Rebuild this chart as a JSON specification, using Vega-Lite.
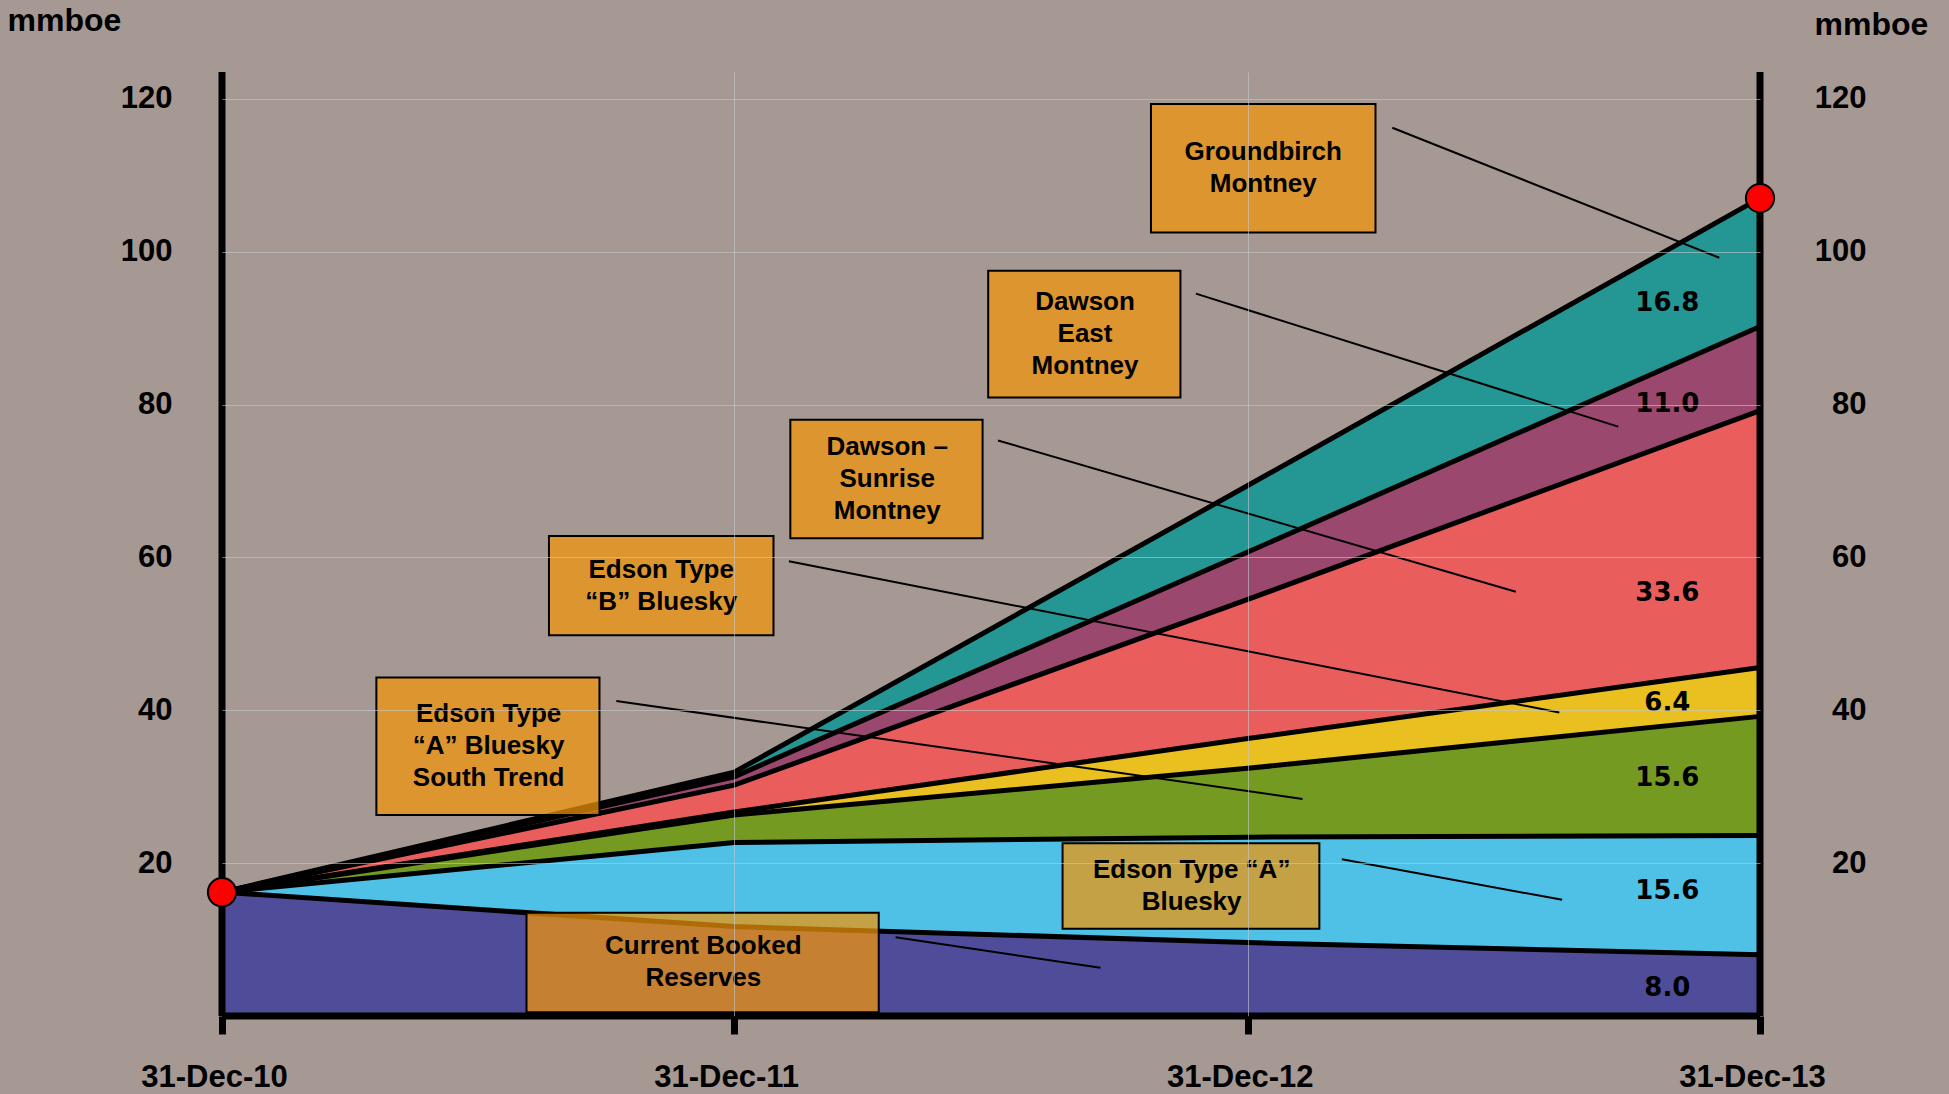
{
  "$schema": "https://vega.github.io/schema/vega-lite/v6.json",
  "width": 1538,
  "height": 944,
  "autosize": {"type": "none"},
  "padding": {"left": 222, "top": 72, "right": 189, "bottom": 78},
  "background": "#a69893",
  "config": {
    "view": {"stroke": null},
    "font": "Liberation Sans"
  },
  "datasets": {
    "reserves": [
      {"date": "2010-12-31", "series": "Current Booked Reserves", "order": 1, "value": 16.2},
      {"date": "2010-12-31", "series": "Edson Type “A” Bluesky", "order": 2, "value": 0},
      {"date": "2010-12-31", "series": "Edson Type “A” Bluesky South Trend", "order": 3, "value": 0},
      {"date": "2010-12-31", "series": "Edson Type “B” Bluesky", "order": 4, "value": 0},
      {"date": "2010-12-31", "series": "Dawson – Sunrise Montney", "order": 5, "value": 0},
      {"date": "2010-12-31", "series": "Dawson East Montney", "order": 6, "value": 0},
      {"date": "2010-12-31", "series": "Groundbirch Montney", "order": 7, "value": 0},
      {"date": "2011-12-31", "series": "Current Booked Reserves", "order": 1, "value": 11.7},
      {"date": "2011-12-31", "series": "Edson Type “A” Bluesky", "order": 2, "value": 11.0},
      {"date": "2011-12-31", "series": "Edson Type “A” Bluesky South Trend", "order": 3, "value": 3.6},
      {"date": "2011-12-31", "series": "Edson Type “B” Bluesky", "order": 4, "value": 0.4},
      {"date": "2011-12-31", "series": "Dawson – Sunrise Montney", "order": 5, "value": 3.5},
      {"date": "2011-12-31", "series": "Dawson East Montney", "order": 6, "value": 1.1},
      {"date": "2011-12-31", "series": "Groundbirch Montney", "order": 7, "value": 0.6},
      {"date": "2012-12-31", "series": "Current Booked Reserves", "order": 1, "value": 9.6},
      {"date": "2012-12-31", "series": "Edson Type “A” Bluesky", "order": 2, "value": 13.8},
      {"date": "2012-12-31", "series": "Edson Type “A” Bluesky South Trend", "order": 3, "value": 9.0},
      {"date": "2012-12-31", "series": "Edson Type “B” Bluesky", "order": 4, "value": 3.9},
      {"date": "2012-12-31", "series": "Dawson – Sunrise Montney", "order": 5, "value": 18.2},
      {"date": "2012-12-31", "series": "Dawson East Montney", "order": 6, "value": 6.2},
      {"date": "2012-12-31", "series": "Groundbirch Montney", "order": 7, "value": 8.7},
      {"date": "2013-12-31", "series": "Current Booked Reserves", "order": 1, "value": 8.0},
      {"date": "2013-12-31", "series": "Edson Type “A” Bluesky", "order": 2, "value": 15.6},
      {"date": "2013-12-31", "series": "Edson Type “A” Bluesky South Trend", "order": 3, "value": 15.6},
      {"date": "2013-12-31", "series": "Edson Type “B” Bluesky", "order": 4, "value": 6.4},
      {"date": "2013-12-31", "series": "Dawson – Sunrise Montney", "order": 5, "value": 33.6},
      {"date": "2013-12-31", "series": "Dawson East Montney", "order": 6, "value": 11.0},
      {"date": "2013-12-31", "series": "Groundbirch Montney", "order": 7, "value": 16.8}
    ],
    "boxes": [
      {"lines": ["Groundbirch", "Montney"], "start": "2012-10-23", "end": "2013-04-01", "top": 119.3, "bottom": 102.5, "center": "2013-01-11", "firstLine": 113.0},
      {"lines": ["Dawson", "East", "Montney"], "start": "2012-06-29", "end": "2012-11-13", "top": 97.5, "bottom": 80.9, "center": "2012-09-06", "firstLine": 93.4},
      {"lines": ["Dawson –", "Sunrise", "Montney"], "start": "2012-02-09", "end": "2012-06-25", "top": 78.0, "bottom": 62.5, "center": "2012-04-18", "firstLine": 74.4},
      {"lines": ["Edson Type", "“B” Bluesky"], "start": "2011-08-21", "end": "2012-01-28", "top": 62.8, "bottom": 49.8, "center": "2011-11-09", "firstLine": 58.4},
      {"lines": ["Edson Type", "“A” Bluesky", "South Trend"], "start": "2011-04-20", "end": "2011-09-26", "top": 44.3, "bottom": 26.3, "center": "2011-07-09", "firstLine": 39.5},
      {"lines": ["Edson Type “A”", "Bluesky"], "start": "2012-08-21", "end": "2013-02-20", "top": 22.6, "bottom": 11.4, "center": "2012-11-21", "firstLine": 19.1},
      {"lines": ["Current Booked", "Reserves"], "start": "2011-08-05", "end": "2012-04-12", "top": 13.5, "bottom": 0.5, "center": "2011-12-09", "firstLine": 9.1}
    ],
    "leaders": [
      {"start": "2013-04-13", "from": 116.2, "end": "2013-12-02", "to": 99.2},
      {"start": "2012-11-24", "from": 94.5, "end": "2013-09-21", "to": 77.1},
      {"start": "2012-07-06", "from": 75.3, "end": "2013-07-10", "to": 55.5},
      {"start": "2012-02-08", "from": 59.5, "end": "2013-08-10", "to": 39.7},
      {"start": "2011-10-08", "from": 41.2, "end": "2013-02-08", "to": 28.4},
      {"start": "2013-03-08", "from": 20.5, "end": "2013-08-12", "to": 15.2},
      {"start": "2012-04-24", "from": 10.3, "end": "2012-09-17", "to": 6.3}
    ],
    "valueLabels": [
      {"date": "2013-10-26", "pos": 93.3, "label": "16.8"},
      {"date": "2013-10-26", "pos": 80.1, "label": "11.0"},
      {"date": "2013-10-26", "pos": 55.4, "label": "33.6"},
      {"date": "2013-10-26", "pos": 41.0, "label": "6.4"},
      {"date": "2013-10-26", "pos": 31.2, "label": "15.6"},
      {"date": "2013-10-26", "pos": 16.3, "label": "15.6"},
      {"date": "2013-10-26", "pos": 3.7, "label": "8.0"}
    ],
    "dots": [
      {"date": "2010-12-31", "total": 16.2},
      {"date": "2013-12-31", "total": 107.0}
    ],
    "frameX": [{"date": "2010-12-31"}, {"date": "2013-12-31"}],
    "frameY": [{"base": 0}]
  },
  "layer": [
    {
      "data": {"name": "reserves"},
      "transform": [
        {"stack": "value", "groupby": ["date"], "sort": [{"field": "order", "order": "ascending"}], "as": ["y0", "y1"]}
      ],
      "mark": {"type": "area", "opacity": 1},
      "encoding": {
        "x": {
          "field": "date", "type": "temporal", "title": null,
          "scale": {"type": "utc", "domain": [{"year": 2010, "month": 12, "date": 31, "utc": true}, {"year": 2013, "month": 12, "date": 31, "utc": true}]},
          "axis": {
            "orient": "bottom",
            "values": [{"year": 2010, "month": 12, "date": 31, "utc": true}, {"year": 2011, "month": 12, "date": 31, "utc": true}, {"year": 2012, "month": 12, "date": 31, "utc": true}, {"year": 2013, "month": 12, "date": 31, "utc": true}],
            "format": "%d-%b-%y",
            "domain": false,
            "ticks": true, "tickSize": 18, "tickWidth": 7, "tickColor": "black",
            "grid": true, "gridColor": "#c4c8cc", "gridWidth": 1,
            "gridOpacity": {"condition": {"test": "utcyear(datum.value) == 2011 || utcyear(datum.value) == 2012", "value": 0.6}, "value": 0},
            "labelFont": "Liberation Sans", "labelFontWeight": "bold", "labelFontSize": 31, "labelColor": "black",
            "labelPadding": 28, "labelOffset": -8, "labelFlush": false, "labelOverlap": false, "labelBound": false,
            "zindex": 1
          }
        },
        "y": {
          "field": "y1", "type": "quantitative", "title": "mmboe",
          "scale": {"domain": [0, 123.5], "nice": false, "zero": true},
          "axis": {
            "orient": "left",
            "values": [20, 40, 60, 80, 100, 120],
            "domain": false, "ticks": false,
            "grid": true, "gridColor": "#c4c8cc", "gridOpacity": 0.6, "gridWidth": 1,
            "labelFont": "Liberation Sans", "labelFontWeight": "bold", "labelFontSize": 31, "labelColor": "black",
            "labelPadding": 50,
            "titleAngle": 0, "titleX": -215, "titleY": -42, "titleAlign": "left", "titleBaseline": "alphabetic",
            "titleFont": "Liberation Sans", "titleFontSize": 32, "titleFontWeight": "bold", "titleColor": "black",
            "zindex": 1
          }
        },
        "y2": {"field": "y0"},
        "color": {
          "field": "series", "type": "nominal", "legend": null,
          "scale": {
            "domain": ["Current Booked Reserves", "Edson Type “A” Bluesky", "Edson Type “A” Bluesky South Trend", "Edson Type “B” Bluesky", "Dawson – Sunrise Montney", "Dawson East Montney", "Groundbirch Montney"],
            "range": ["#4f4d99", "#4fc1e6", "#749a22", "#e9c01f", "#e95e5d", "#9b486f", "#249794"]
          }
        },
        "order": {"field": "order"}
      }
    },
    {
      "data": {"name": "reserves"},
      "transform": [
        {"stack": "value", "groupby": ["date"], "sort": [{"field": "order", "order": "ascending"}], "as": ["y0", "y1"]}
      ],
      "mark": {"type": "line", "color": "black", "strokeWidth": 5},
      "encoding": {
        "x": {"field": "date", "type": "temporal", "title": null, "axis": null,
          "scale": {"type": "utc", "domain": [{"year": 2010, "month": 12, "date": 31, "utc": true}, {"year": 2013, "month": 12, "date": 31, "utc": true}]}},
        "y": {
          "field": "y1", "type": "quantitative", "title": "mmboe",
          "scale": {"domain": [0, 123.5], "nice": false, "zero": true},
          "axis": {
            "orient": "right",
            "values": [20, 40, 60, 80, 100, 120],
            "domain": false, "ticks": false, "grid": false,
            "labelFont": "Liberation Sans", "labelFontWeight": "bold", "labelFontSize": 31, "labelColor": "black",
            "labelPadding": 106, "labelAlign": "right",
            "titleAngle": 0, "titleX": 54, "titleY": -38, "titleAlign": "left", "titleBaseline": "alphabetic",
            "titleFont": "Liberation Sans", "titleFontSize": 32, "titleFontWeight": "bold", "titleColor": "black",
            "zindex": 1
          }
        },
        "detail": {"field": "series"}
      }
    },
    {
      "data": {"name": "frameX"},
      "mark": {"type": "rule", "color": "black", "strokeWidth": 7},
      "encoding": {
        "x": {"field": "date", "type": "temporal", "title": null, "axis": null,
          "scale": {"type": "utc", "domain": [{"year": 2010, "month": 12, "date": 31, "utc": true}, {"year": 2013, "month": 12, "date": 31, "utc": true}]}}
      }
    },
    {
      "data": {"name": "frameY"},
      "mark": {"type": "rule", "color": "black", "strokeWidth": 7},
      "encoding": {
        "y": {"field": "base", "type": "quantitative", "axis": null, "scale": {"domain": [0, 123.5], "nice": false}}
      }
    },
    {
      "data": {"name": "boxes"},
      "mark": {"type": "rect", "fill": "#f39409", "fillOpacity": 0.72, "stroke": "black", "strokeWidth": 2},
      "encoding": {
        "x": {"field": "start", "type": "temporal", "title": null, "axis": null,
          "scale": {"type": "utc", "domain": [{"year": 2010, "month": 12, "date": 31, "utc": true}, {"year": 2013, "month": 12, "date": 31, "utc": true}]}},
        "x2": {"field": "end"},
        "y": {"field": "top", "type": "quantitative", "axis": null, "scale": {"domain": [0, 123.5], "nice": false}},
        "y2": {"field": "bottom"}
      }
    },
    {
      "data": {"name": "leaders"},
      "mark": {"type": "rule", "color": "black", "strokeWidth": 2},
      "encoding": {
        "x": {"field": "start", "type": "temporal", "title": null, "axis": null,
          "scale": {"type": "utc", "domain": [{"year": 2010, "month": 12, "date": 31, "utc": true}, {"year": 2013, "month": 12, "date": 31, "utc": true}]}},
        "x2": {"field": "end"},
        "y": {"field": "from", "type": "quantitative", "axis": null, "scale": {"domain": [0, 123.5], "nice": false}},
        "y2": {"field": "to"}
      }
    },
    {
      "data": {"name": "boxes"},
      "mark": {"type": "text", "font": "Liberation Sans", "fontWeight": "bold", "fontSize": 26, "lineHeight": 32, "align": "center", "baseline": "middle", "color": "black"},
      "encoding": {
        "x": {"field": "center", "type": "temporal", "title": null, "axis": null,
          "scale": {"type": "utc", "domain": [{"year": 2010, "month": 12, "date": 31, "utc": true}, {"year": 2013, "month": 12, "date": 31, "utc": true}]}},
        "y": {"field": "firstLine", "type": "quantitative", "axis": null, "scale": {"domain": [0, 123.5], "nice": false}},
        "text": {"field": "lines", "type": "nominal"}
      }
    },
    {
      "data": {"name": "valueLabels"},
      "mark": {"type": "text", "font": "DejaVu Sans", "fontWeight": "bold", "fontSize": 26, "align": "center", "baseline": "middle", "color": "black"},
      "encoding": {
        "x": {"field": "date", "type": "temporal", "title": null, "axis": null,
          "scale": {"type": "utc", "domain": [{"year": 2010, "month": 12, "date": 31, "utc": true}, {"year": 2013, "month": 12, "date": 31, "utc": true}]}},
        "y": {"field": "pos", "type": "quantitative", "axis": null, "scale": {"domain": [0, 123.5], "nice": false}},
        "text": {"field": "label", "type": "nominal"}
      }
    },
    {
      "data": {"name": "dots"},
      "mark": {"type": "point", "shape": "circle", "filled": true, "fill": "#ff0000", "stroke": "black", "strokeWidth": 2, "size": 800, "opacity": 1},
      "encoding": {
        "x": {"field": "date", "type": "temporal", "title": null, "axis": null,
          "scale": {"type": "utc", "domain": [{"year": 2010, "month": 12, "date": 31, "utc": true}, {"year": 2013, "month": 12, "date": 31, "utc": true}]}},
        "y": {"field": "total", "type": "quantitative", "axis": null, "scale": {"domain": [0, 123.5], "nice": false}}
      }
    }
  ],
  "resolve": {"scale": {"y": "shared", "x": "shared"}, "axis": {"x": "independent", "y": "independent"}}
}
